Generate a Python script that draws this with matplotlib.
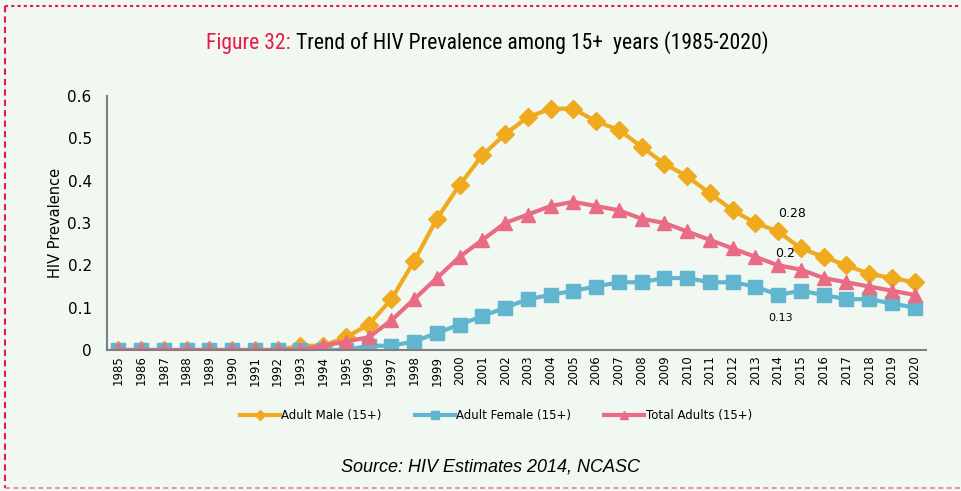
import matplotlib.pyplot as plt
from matplotlib.lines import Line2D

years = list(range(1985, 2021))
male = [0, 0, 0, 0, 0, 0, 0, 0, 0.01, 0.01, 0.03, 0.06, 0.12, 0.21, 0.31, 0.39, 0.46, 0.51,
        0.55, 0.57, 0.57, 0.54, 0.52, 0.48, 0.44, 0.41, 0.37, 0.33, 0.30, 0.28, 0.24, 0.22,
        0.20, 0.18, 0.17, 0.16]
female = [0, 0, 0, 0, 0, 0, 0, 0, 0, 0, 0, 0.01, 0.01, 0.02, 0.04, 0.06, 0.08, 0.10,
          0.12, 0.13, 0.14, 0.15, 0.16, 0.16, 0.17, 0.17, 0.16, 0.16, 0.15, 0.13, 0.14, 0.13,
          0.12, 0.12, 0.11, 0.10]
total = [0, 0, 0, 0, 0, 0, 0, 0, 0, 0.01, 0.02, 0.03, 0.07, 0.12, 0.17, 0.22, 0.26, 0.30,
         0.32, 0.34, 0.35, 0.34, 0.33, 0.31, 0.30, 0.28, 0.26, 0.24, 0.22, 0.20, 0.19, 0.17,
         0.16, 0.15, 0.14, 0.13]
yticks = [0, 0.1, 0.2, 0.3, 0.4, 0.5, 0.6]
ytick_labels = ['0', '0.1', '0.2', '0.3', '0.4', '0.5', '0.6']

c_male = '#f0aa1e'
c_female = '#62b5cf'
c_total = '#e96c84'
bg = '#f1f7f1'
red = '#e8194a'

# condensed face for the title if one is installed
narrow = ['Roboto Condensed', 'Liberation Sans Narrow', 'DejaVu Sans Condensed',
          'Open Sans Condensed', 'DejaVu Sans']

fig = plt.figure(figsize=(9.61, 4.91), dpi=100, facecolor=bg)
ax = fig.add_axes([107 / 961, 1 - 350 / 491, (926 - 107) / 961, (350 - 96) / 491])
ax.set_facecolor(bg)

x = list(range(len(years)))
ax.plot(x, male, color=c_male, lw=3, marker='D', ms=9, label='Adult Male (15+)')
ax.plot(x, female, color=c_female, lw=3, marker='s', ms=10, label='Adult Female (15+)')
ax.plot(x, total, color=c_total, lw=3, marker='^', ms=10, label='Total Adults (15+)')

ax.set_xlim(-0.5, len(years) - 0.5)
ax.set_ylim(0, 0.6)
ax.set_xticks(x)
ax.set_xticklabels([str(y) for y in years], rotation=90, fontsize=8.5)
ax.set_yticks(yticks)
ax.set_yticklabels(ytick_labels, fontsize=11)
ax.tick_params(axis='x', length=0, pad=4)
ax.tick_params(axis='y', length=0, pad=11)
for s in ['top', 'right']:
    ax.spines[s].set_visible(False)
for s in ['left', 'bottom']:
    ax.spines[s].set_color('#808080')
    ax.spines[s].set_linewidth(1.5)
ax.set_ylabel('HIV Prevalence', fontsize=10.5, labelpad=3)

# data labels
i14 = years.index(2014)
ax.text(i14 + 0.6, 0.322, '0.28', fontsize=9, ha='center', va='center')
ax.text(i14 + 0.3, 0.229, '0.2', fontsize=9, ha='center', va='center')
ax.text(i14 + 0.1, 0.075, '0.13', fontsize=8, ha='center', va='center')

handles = [Line2D([], [], color=c_male, lw=3, marker='D', ms=5),
           Line2D([], [], color=c_female, lw=3, marker='s', ms=6),
           Line2D([], [], color=c_total, lw=3, marker='^', ms=6)]
fig.legend(handles, ['Adult Male (15+)', 'Adult Female (15+)', 'Total Adults (15+)'],
           loc='center', bbox_to_anchor=(496 / 961, 1 - 416 / 491), ncol=3, frameon=False,
           fontsize=8.5, handlelength=3.4, handletextpad=0.1, columnspacing=2.8)

# title in two colours
fig.canvas.draw()
r = fig.canvas.get_renderer()
ty = 1 - 43 / 491
fs = 16
t1 = fig.text(0, ty, 'Figure 32: ', color=red, fontsize=fs, family=narrow, va='center')
t2 = fig.text(0, ty, 'Trend of HIV Prevalence among 15+  years (1985-2020)', color='black',
              fontsize=fs, family=narrow, va='center')
w = t1.get_window_extent(r).width + t2.get_window_extent(r).width
if w > 575:
    fs = fs * 563 / w
    t1.set_fontsize(fs)
    t2.set_fontsize(fs)
w1 = t1.get_window_extent(r).width
w2 = t2.get_window_extent(r).width
x0 = 487 - (w1 + w2) / 2
t1.set_x(x0 / 961)
t2.set_x((x0 + w1) / 961)

fig.text(490 / 961, 1 - 467 / 491, 'Source: HIV Estimates 2014, NCASC', fontsize=13,
         style='italic', ha='center', va='center', family='Liberation Sans')

# dashed border
fig.add_artist(Line2D([5 / 961, 1], [1 - 6 / 491] * 2, color=red, lw=1.5, ls=(0, (1.5, 1.5))))
fig.add_artist(Line2D([5 / 961] * 2, [1 - 6 / 491, 1 - 488 / 491], color=red, lw=1.5, ls=(0, (3, 2))))
fig.add_artist(Line2D([5 / 961, 1], [1 - 488 / 491] * 2, color='#f07890', lw=1.2, ls=(0, (3, 2))))

fig.savefig('out.png', dpi=100, facecolor=bg)
